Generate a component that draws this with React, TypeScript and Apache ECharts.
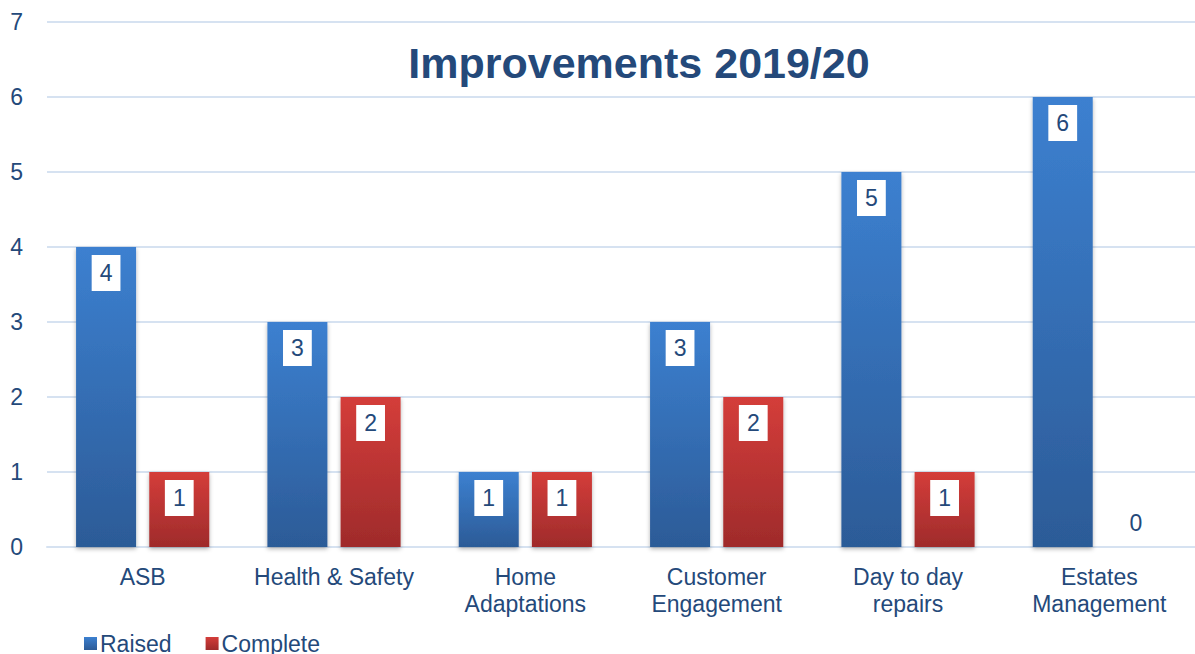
import React, { useEffect, useRef } from "react";
import * as echarts from "echarts";

const categories = ["ASB", "Health & Safety", "Home\nAdaptations", "Customer\nEngagement", "Day to day\nrepairs", "Estates\nManagement"];
const raised = [4, 3, 1, 3, 5, 6];
const complete = [1, 2, 1, 2, 1, 0];
const yTicks = [0, 1, 2, 3, 4, 5, 6, 7];

const textColor = "#24497A";
const ff = "Liberation Sans, Arial, sans-serif";

const boxLabel = {
  show: true,
  position: "insideTop",
  distance: 8,
  backgroundColor: "#ffffff",
  padding: [6, 8, 6, 8],
  color: textColor,
  fontSize: 23,
  lineHeight: 24,
  fontFamily: ff,
};

function mkData(vals: number[]) {
  return vals.map((v) =>
    v === 0
      ? { value: v, label: { position: "top", backgroundColor: "transparent", distance: 6 } }
      : v
  );
}

export default function App() {
  const ref = useRef<HTMLDivElement>(null);
  useEffect(() => {
    const chart = echarts.init(ref.current!, null, { renderer: "svg" });
    chart.setOption({
      animation: false,
      backgroundColor: "#ffffff",
      title: {
        text: "Improvements 2019/20",
        left: 634,
        top: 36,
        textAlign: "center",
        textStyle: {
          color: textColor,
          fontSize: 43,
          fontWeight: "bold",
          fontFamily: ff,
        },
      },
      legend: {
        left: 79,
        top: 627,
        itemWidth: 13,
        itemHeight: 13,
        itemGap: 34,
        icon: "rect",
        textStyle: {
          color: textColor,
          fontSize: 23,
          fontFamily: ff,
          padding: [0, 0, 0, -2],
        },
        data: ["Raised", "Complete"],
      },
      grid: { left: 47, right: 0, top: 22, bottom: 107 },
      xAxis: {
        type: "category",
        data: categories,
        axisLine: { show: true, lineStyle: { color: "#D6E2F1", width: 2 } },
        axisTick: { show: false },
        axisLabel: {
          color: textColor,
          fontSize: 23,
          lineHeight: 27,
          margin: 16,
          interval: 0,
          fontFamily: ff,
        },
      },
      yAxis: {
        type: "value",
        min: yTicks[0],
        max: yTicks[yTicks.length - 1],
        interval: 1,
        axisLine: { show: false },
        axisTick: { show: false },
        splitLine: { lineStyle: { color: "#D6E2F1", width: 2 } },
        axisLabel: {
          color: textColor,
          fontSize: 23,
          margin: 24,
          fontFamily: ff,
        },
      },
      series: [
        {
          name: "Raised",
          type: "bar",
          barWidth: 60,
          barGap: "22%",
          data: mkData(raised),
          itemStyle: {
            color: new echarts.graphic.LinearGradient(0, 0, 0, 1, [
              { offset: 0, color: "#3C80D0" },
              { offset: 1, color: "#2C5B97" },
            ]),
            shadowColor: "rgba(0,0,0,0.3)",
            shadowBlur: 4,
            shadowOffsetY: 2,
          },
          label: boxLabel,
        },
        {
          name: "Complete",
          type: "bar",
          barWidth: 60,
          data: mkData(complete),
          itemStyle: {
            color: new echarts.graphic.LinearGradient(0, 0, 0, 1, [
              { offset: 0, color: "#D43D3A" },
              { offset: 1, color: "#9F2B2B" },
            ]),
            shadowColor: "rgba(0,0,0,0.3)",
            shadowBlur: 4,
            shadowOffsetY: 2,
          },
          label: boxLabel,
        },
      ],
    });
    return () => chart.dispose();
  }, []);
  return (
    <div
      ref={ref}
      style={{ position: "fixed", left: 0, top: 0, width: 1195, height: 654, background: "#fff" }}
    />
  );
}
